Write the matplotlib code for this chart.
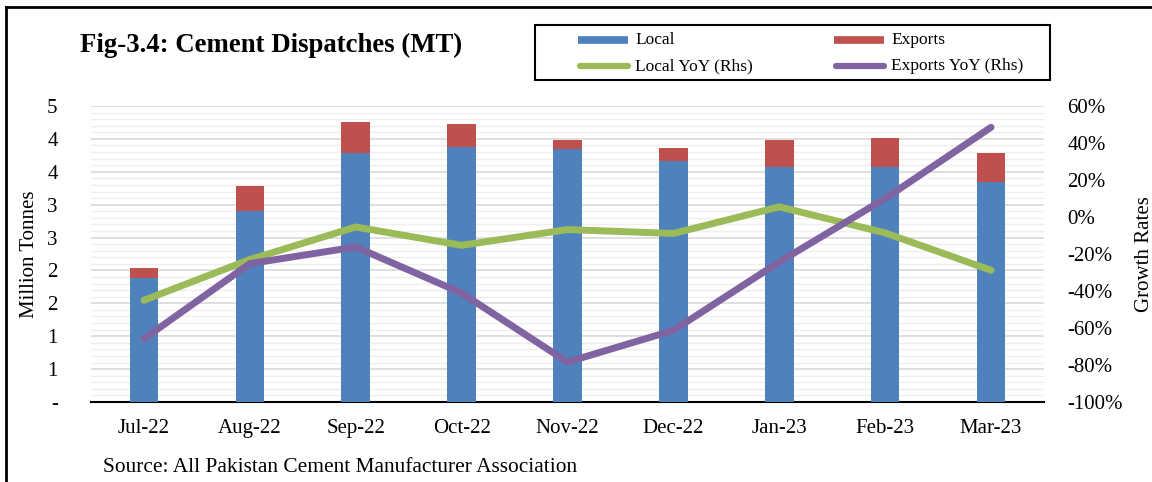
import numpy as np
import matplotlib
matplotlib.use("Agg")
from matplotlib import pyplot as plt
from matplotlib.lines import Line2D
from matplotlib.patches import Rectangle
from matplotlib.ticker import MultipleLocator, FuncFormatter

plt.rcParams["font.family"] = ["Liberation Serif", "DejaVu Serif"]

months = ["Jul-22", "Aug-22", "Sep-22", "Oct-22", "Nov-22", "Dec-22", "Jan-23", "Feb-23", "Mar-23"]
local = [1.88, 2.90, 3.78, 3.87, 3.84, 3.66, 3.57, 3.57, 3.34]
exports = [0.15, 0.38, 0.48, 0.36, 0.15, 0.20, 0.41, 0.44, 0.44]
local_yoy = [-45.0, -23.0, -5.4, -15.3, -6.8, -8.9, 5.5, -8.6, -28.8]
exports_yoy = [-65.8, -25.2, -16.2, -41.1, -78.4, -61.3, -24.3, 10.0, 48.5]

blue, red, green, purple = "#4F81BD", "#C0504D", "#9BBB59", "#8064A2"

W, H = 1152, 482
fig = plt.figure(figsize=(W / 100, H / 100), dpi=100)

def fx(px):
    return px / W

def fy(py):
    return 1 - py / H

# plot area in pixels: x 91..1044, y 106..402
ax = fig.add_axes([fx(91), fy(402), (1044 - 91) / W, (402 - 106) / H])
x = np.arange(len(months))
ax.bar(x, local, width=0.27, color=blue, zorder=3)
ax.bar(x, exports, width=0.27, bottom=local, color=red, zorder=3)

ax.set_xlim(-0.5, len(months) - 0.5)
ax.set_ylim(0, 4.5)
ax.yaxis.set_major_locator(MultipleLocator(0.5))
ax.yaxis.set_minor_locator(MultipleLocator(0.1))
ax.yaxis.set_major_formatter(FuncFormatter(lambda v, p: "-" if abs(v) < 1e-9 else str(int(np.floor(v + 0.5)))))
ax.grid(which="major", axis="y", color="#d9d9d9", lw=1.2, zorder=0)
ax.grid(which="minor", axis="y", color="#efefef", lw=1.0, zorder=0)
ax.set_axisbelow(True)
ax.set_xticks(x)
ax.set_xticklabels(months)
ax.tick_params(axis="both", which="both", length=0, labelsize=15)
ax.tick_params(axis="y", pad=24)
ax.tick_params(axis="x", pad=12)
for s in ["top", "left", "right"]:
    ax.spines[s].set_visible(False)
ax.spines["bottom"].set_linewidth(1.5)
ax.set_ylabel("Million Tonnes", fontsize=15)
ax.yaxis.set_label_coords((39 - 91) / (1044 - 91), 0.5)

ax2 = ax.twinx()
ax2.plot(x, local_yoy, color=green, lw=5, solid_capstyle="round", solid_joinstyle="round", zorder=4)
ax2.plot(x, exports_yoy, color=purple, lw=5, solid_capstyle="round", solid_joinstyle="round", zorder=4)
ax2.set_ylim(-100, 60)
ax2.yaxis.set_major_locator(MultipleLocator(20))
ax2.yaxis.set_major_formatter(FuncFormatter(lambda v, p: f"{v:.0f}%"))
ax2.tick_params(axis="y", length=0, labelsize=15, pad=17)
for s in ["top", "left", "right", "bottom"]:
    ax2.spines[s].set_visible(False)
ax2.set_ylabel("Growth Rates", fontsize=15)
ax2.yaxis.set_label_coords((1135 - 91) / (1044 - 91), 0.5)

# legend box drawn by hand to match the original layout
fig.add_artist(Rectangle((fx(535), fy(80)), (1050 - 535) / W, 55 / H, transform=fig.transFigure,
                         facecolor="white", edgecolor="black", lw=1.5))
legend_items = [
    ("Local", blue, "butt", 578, 40),
    ("Exports", red, "butt", 834, 40),
    ("Local YoY (Rhs)", green, "round", 578, 66),
    ("Exports YoY (Rhs)", purple, "round", 834, 66),
]
for label, color, cap, lx, ly in legend_items:
    if cap == "butt":
        fig.add_artist(Line2D([fx(lx), fx(lx + 50)], [fy(ly), fy(ly)], transform=fig.transFigure,
                              color=color, lw=5.5, solid_capstyle="butt"))
    else:
        fig.add_artist(Line2D([fx(lx + 2), fx(lx + 50)], [fy(ly), fy(ly)], transform=fig.transFigure,
                              color=color, lw=4.5, solid_capstyle="round"))
    fig.text(fx(lx + 57), fy(ly), label, fontsize=12.5, va="center", ha="left")

fig.text(fx(80), fy(45), "Fig-3.4: Cement Dispatches (MT)", fontsize=19.3,
         fontweight="bold", va="center", ha="left")
fig.text(fx(103), fy(468), "Source: All Pakistan Cement Manufacturer Association",
         fontsize=15.4, va="center", ha="left")

# frame of the figure box (left and top edges visible)
fig.add_artist(Line2D([fx(6), fx(6)], [0, fy(7)], transform=fig.transFigure, color="black", lw=2))
fig.add_artist(Line2D([fx(6), 1], [fy(7), fy(7)], transform=fig.transFigure, color="black", lw=2))

fig.savefig("out.png", dpi=100)
